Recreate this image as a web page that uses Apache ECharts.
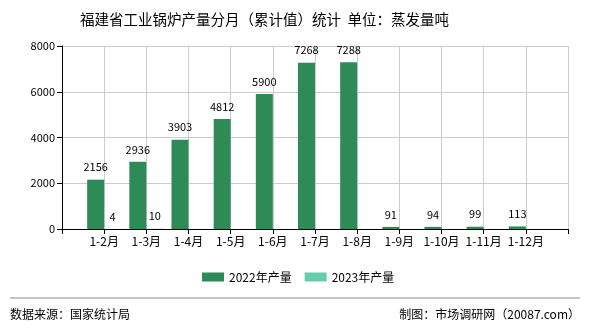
<!DOCTYPE html>
<html><head><meta charset="utf-8">
<script src="https://cdn.jsdelivr.net/npm/echarts@6/dist/echarts.min.js"></script>
<style>html,body{margin:0;padding:0;background:#fff}#c{width:590px;height:330px}</style>
</head><body><div id="c"></div>
<script>
const categories = ['', '1-2月', '1-3月', '1-4月', '1-5月', '1-6月', '1-7月', '1-8月', '1-9月', '1-10月', '1-11月', '1-12月', ''];
const series2022 = [null, 2156, 2936, 3903, 4812, 5900, 7268, 7288, 91, 94, 99, 113, null];
const series2023 = [null, 4, 10, null, null, null, null, null, null, null, null, null, null];
const yTicks = { min: 0, max: 8000, interval: 2000 };
const FONT = '"Noto Sans CJK SC", "DejaVu Sans", sans-serif';

const chart = echarts.init(document.getElementById('c'), null, { renderer: 'canvas' });
chart.setOption({
  animation: false,
  backgroundColor: '#fff',
  title: {
    text: '福建省工业锅炉产量分月（累计值）统计  单位：蒸发量吨',
    left: 75, top: 7,
    textStyle: { fontFamily: FONT, fontSize: 14.5, fontWeight: 'normal', color: '#000' }
  },
  legend: {
    bottom: 42, left: 197,
    itemWidth: 22, itemHeight: 9, itemGap: 13,
    icon: 'rect',
    textStyle: { fontFamily: FONT, fontSize: 12, color: '#000' },
    data: ['2022年产量', '2023年产量']
  },
  grid: { left: 62, right: 22, top: 46, bottom: 101, containLabel: false },
  xAxis: {
    type: 'category', data: categories, boundaryGap: false,
    axisLine: { lineStyle: { color: '#000', width: 1 } },
    axisTick: { show: true, length: 5, lineStyle: { color: '#000' } },
    axisLabel: { interval: 0, fontFamily: FONT, fontSize: 12, color: '#000', margin: 6 },
    splitLine: { show: true, lineStyle: { color: '#ccc' } }
  },
  yAxis: {
    type: 'value', min: yTicks.min, max: yTicks.max, interval: yTicks.interval,
    axisLine: { show: true, lineStyle: { color: '#000', width: 1 } },
    axisTick: { show: true, length: 5, lineStyle: { color: '#000' } },
    axisLabel: { fontFamily: FONT, fontSize: 11, color: '#000', margin: 7, formatter: v => String(v) },
    splitLine: { show: true, lineStyle: { color: '#ccc' } }
  },
  series: [
    {
      name: '2022年产量', type: 'bar', data: series2022, barWidth: 17, barGap: '0%',
      itemStyle: { color: '#2e8b57' },
      label: { show: true, position: 'top', distance: 7, fontFamily: FONT, fontSize: 11, color: '#000' }
    },
    {
      name: '2023年产量', type: 'bar', data: series2023, barWidth: 17,
      itemStyle: { color: '#66cdaa' },
      label: { show: true, position: 'top', distance: 7, fontFamily: FONT, fontSize: 11, color: '#000' }
    }
  ],
  graphic: [
    { type: 'line', shape: { x1: 10, y1: 298, x2: 580, y2: 298 }, style: { stroke: '#888', lineWidth: 1 } },
    { type: 'text', left: 10, top: 308, style: { text: '数据来源：国家统计局', font: '12px ' + FONT, fill: '#000' } },
    { type: 'text', right: 10, top: 308, style: { text: '制图：市场调研网（20087.com）', font: '12px ' + FONT, fill: '#000' } }
  ]
});
</script></body></html>
